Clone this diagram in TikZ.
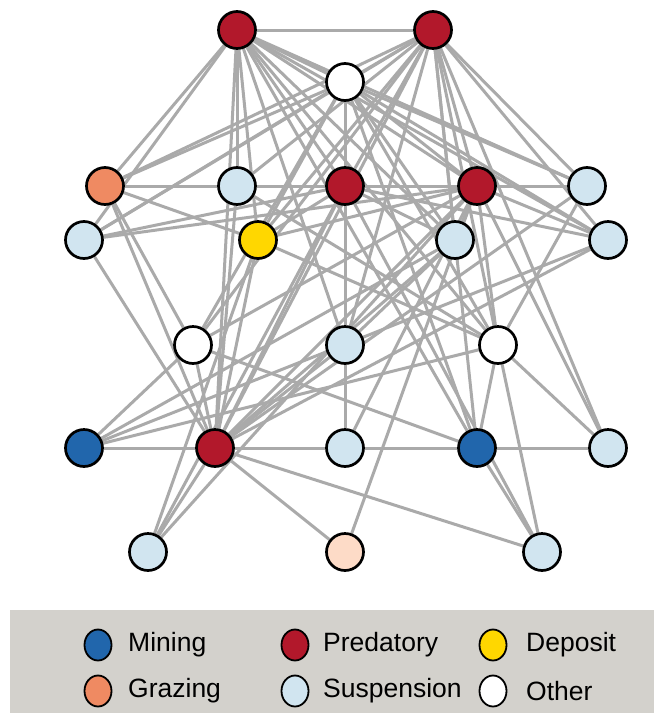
\documentclass[tikz,border=0pt]{standalone}
\usepackage{fontspec}
\setmainfont{Liberation Sans}
\usetikzlibrary{shapes.geometric}
\pgfdeclarelayer{bg}
\pgfsetlayers{bg,main}
\definecolor{cRed}{HTML}{B2182B}
\definecolor{cBlue}{HTML}{2166AC}
\definecolor{cLight}{HTML}{D1E5F0}
\definecolor{cOrange}{HTML}{EF8A62}
\definecolor{cPeach}{HTML}{FDDBC7}
\definecolor{cGold}{HTML}{FFD700}
\definecolor{cEdge}{HTML}{AAAAAA}
\definecolor{cLegend}{HTML}{D3D1CC}
\tikzset{
  vert/.style={circle, draw=black, line width=2.7pt, minimum size=37pt, inner sep=0pt},
  link/.style={draw=cEdge, line width=3pt},
  legdot/.style={ellipse, draw=black, line width=1.8pt, minimum width=27pt, minimum height=31pt, inner sep=0pt},
  legtxt/.style={anchor=west, inner sep=0pt, font=\fontsize{26.5}{30}\selectfont}
}
\begin{document}
\begin{tikzpicture}[x=1pt,y=-1pt]
\useasboundingbox (0,0) rectangle (654,713);
% nodes
\node[vert, fill=cRed]   (A) at (237,30) {};
\node[vert, fill=cRed]   (B) at (433,30) {};
\node[vert, fill=white]  (C) at (345,82) {};
\node[vert, fill=cOrange](D) at (105,186) {};
\node[vert, fill=cLight] (E) at (237,186) {};
\node[vert, fill=cRed]   (F) at (345,186) {};
\node[vert, fill=cRed]   (G) at (477,186) {};
\node[vert, fill=cLight] (H) at (587,186) {};
\node[vert, fill=cLight] (I) at (84,240) {};
\node[vert, fill=cGold]  (J) at (258,240) {};
\node[vert, fill=cLight] (K) at (455,240) {};
\node[vert, fill=cLight] (L) at (608,240) {};
\node[vert, fill=white]  (M) at (193,345) {};
\node[vert, fill=cLight] (N) at (345,345) {};
\node[vert, fill=white]  (O) at (498,345) {};
\node[vert, fill=cBlue]  (P) at (84,448) {};
\node[vert, fill=cRed]   (Q) at (215,448) {};
\node[vert, fill=cLight] (R) at (345,448) {};
\node[vert, fill=cBlue]  (S) at (477,448) {};
\node[vert, fill=cLight] (T) at (608,448) {};
\node[vert, fill=cLight] (U) at (148,552) {};
\node[vert, fill=cPeach] (V) at (345,552) {};
\node[vert, fill=cLight] (W) at (542,552) {};
% edges
\begin{pgfonlayer}{bg}
\foreach \a/\b in {A/B,A/C,B/C,
  A/D,A/I,A/E,A/Q,A/J,A/N,A/S,A/F,A/O,A/K,A/G,A/H,A/L,
  B/D,B/I,B/E,B/J,B/M,B/F,B/Q,B/N,B/K,B/S,B/G,B/O,B/T,B/L,B/H,
  C/D,C/I,C/F,C/M,C/J,C/G,C/K,C/H,C/L,C/O,C/S,
  D/E,E/F,F/G,G/H,
  D/J,J/O,D/M,D/Q,
  E/Q,E/O,
  F/N,F/I,F/J,F/Q,F/U,F/L,F/W,F/K,
  G/I,G/J,G/K,G/L,G/M,G/Q,G/U,G/V,G/T,G/O,G/R,
  H/O,H/Q,
  I/Q,
  J/Q,J/U,
  K/N,K/P,K/Q,
  L/P,L/Q,
  M/P,M/S,M/Q,
  N/R,N/Q,
  O/S,O/W,O/T,O/P,
  P/Q,Q/R,R/S,S/T,
  Q/U,Q/V,Q/W,S/W}
  \draw[link] (\a) -- (\b);
\end{pgfonlayer}
% legend
\fill[cLegend] (10,610) rectangle (654,713);
\node[legdot, fill=cBlue]   (l1) at (98,645) {};
\node[legtxt] (t1) at (128,645) {Mining};
\node[legdot, fill=cRed]    (l2) at (295,645) {};
\node[legtxt] (t2) at (323,645) {Predatory};
\node[legdot, fill=cGold]   (l3) at (493,645) {};
\node[legtxt] (t3) at (526,645) {Deposit};
\node[legdot, fill=cOrange] (l4) at (98,691) {};
\node[legtxt] (t4) at (128,691) {Grazing};
\node[legdot, fill=cLight]  (l5) at (295,691) {};
\node[legtxt] (t5) at (323,691) {Suspension};
\node[legdot, fill=white]   (l6) at (493,691) {};
\node[legtxt] (t6) at (526,691) {Other};
\end{tikzpicture}
\end{document}
